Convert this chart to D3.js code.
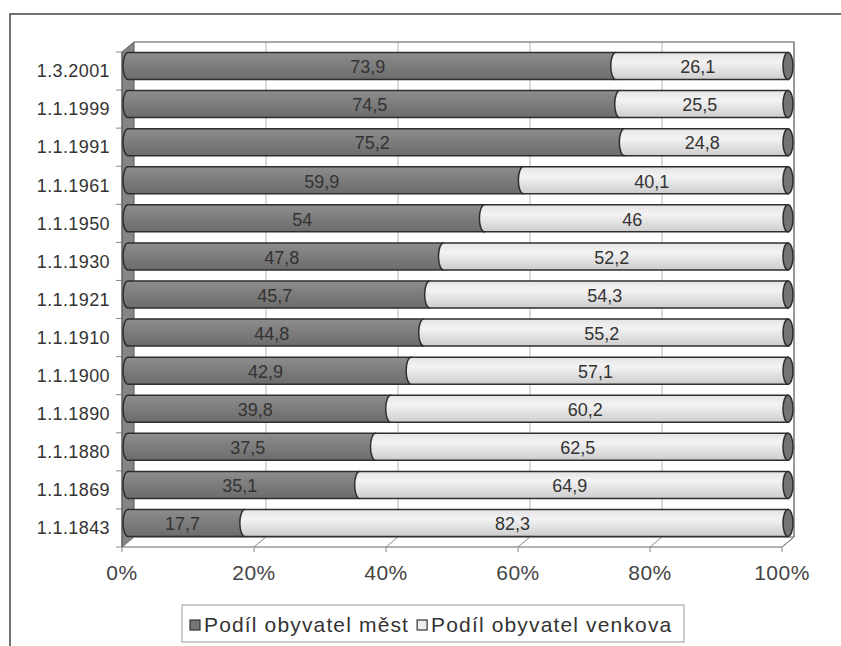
<!DOCTYPE html>
<html><head><meta charset="utf-8">
<script src="https://cdn.jsdelivr.net/npm/d3@7"></script>
<style>body{margin:0;background:#fff}svg{display:block}text{font-family:"Liberation Sans",Arial,sans-serif}</style>
</head><body>
<svg id="c" width="841" height="646"></svg>
<script>
const categories = ["1.3.2001","1.1.1999","1.1.1991","1.1.1961","1.1.1950","1.1.1930","1.1.1921","1.1.1910","1.1.1900","1.1.1890","1.1.1880","1.1.1869","1.1.1843"];
const mesta  = [73.9,74.5,75.2,59.9,54,47.8,45.7,44.8,42.9,39.8,37.5,35.1,17.7];
const venkov = [26.1,25.5,24.8,40.1,46,52.2,54.3,55.2,57.1,60.2,62.5,64.9,82.3];
const tickValues = [0,20,40,60,80,100];
const seriesNames = ["Podíl obyvatel měst","Podíl obyvatel venkova"];

const svg = d3.select("#c");
const DX = 12, DY = -10;
const x = d3.scaleLinear().domain([0,100]).range([122,782]);
const y = d3.scaleBand().domain(categories).range([52,547]).padding(0);
const fmt = v => String(v).replace(".", ",");

const defs = svg.append("defs");
const gDark = defs.append("linearGradient").attr("id","gd").attr("x1",0).attr("y1",0).attr("x2",0).attr("y2",1);
gDark.append("stop").attr("offset","0%").attr("stop-color","#8e8e8e");
gDark.append("stop").attr("offset","35%").attr("stop-color","#818181");
gDark.append("stop").attr("offset","100%").attr("stop-color","#6c6c6c");
const gLight = defs.append("linearGradient").attr("id","gl").attr("x1",0).attr("y1",0).attr("x2",0).attr("y2",1);
gLight.append("stop").attr("offset","0%").attr("stop-color","#e4e4e4");
gLight.append("stop").attr("offset","35%").attr("stop-color","#f3f3f3");
gLight.append("stop").attr("offset","100%").attr("stop-color","#cdcdcd");

// outer border
svg.append("rect").attr("x",10).attr("y",14).attr("width",850).attr("height",660)
  .attr("fill","none").attr("stroke","#444").attr("stroke-width",1.5);

const yTop = y.range()[0], yBot = y.range()[1];
// left wall
svg.append("path").attr("d",`M${x(0)},${yTop} L${x(0)+DX},${yTop+DY} L${x(0)+DX},${yBot+DY} L${x(0)},${yBot} Z`)
  .attr("fill","#858585").attr("stroke","#555").attr("stroke-width",1);
// back wall
svg.append("path").attr("d",`M${x(0)+DX},${yTop+DY} L${x(100)+DX},${yTop+DY} L${x(100)+DX},${yBot+DY}`)
  .attr("fill","none").attr("stroke","#555").attr("stroke-width",1.2);
// gridlines on back wall
svg.append("g").selectAll("line").data(tickValues.slice(1,5)).join("line")
  .attr("x1",d=>x(d)+DX).attr("x2",d=>x(d)+DX).attr("y1",yTop+DY).attr("y2",yBot+DY)
  .attr("stroke","#b5b5b5").attr("stroke-width",1);
// floor
svg.append("path").attr("d",`M${x(0)},${yBot} L${x(100)},${yBot} L${x(100)+DX},${yBot+DY} L${x(0)+DX},${yBot+DY} Z`)
  .attr("fill","#fff").attr("stroke","#666").attr("stroke-width",1);
svg.append("g").selectAll("line").data(tickValues).join("line")
  .attr("x1",d=>x(d)).attr("x2",d=>x(d)+DX).attr("y1",yBot).attr("y2",yBot+DY)
  .attr("stroke","#888").attr("stroke-width",1);
svg.append("g").selectAll("line").data(tickValues).join("line")
  .attr("x1",d=>x(d)).attr("x2",d=>x(d)).attr("y1",yBot).attr("y2",yBot+5)
  .attr("stroke","#888").attr("stroke-width",1);
// left ticks
const bounds = categories.map(c=>y(c)).concat([yBot]);
svg.append("g").selectAll("line").data(bounds).join("line")
  .attr("x1",x(0)-6).attr("x2",x(0)).attr("y1",d=>d).attr("y2",d=>d)
  .attr("stroke","#888").attr("stroke-width",1);
svg.append("line").attr("x1",x(0)).attr("x2",x(0)).attr("y1",yTop).attr("y2",yBot).attr("stroke","#666");

// bars (cylinders)
const BH = 27, RX = 5;
const bx = v => x(v) + DX/2;
const rows = categories.map((c,i)=>({c, m:mesta[i], v:venkov[i]}));
const bars = svg.append("g").selectAll("g").data(rows).join("g");
bars.each(function(d){
  const g = d3.select(this);
  const cy = y(d.c) + y.bandwidth()/2 + DY/2;
  const t = cy - BH/2, b = cy + BH/2, ry = BH/2;
  const x0 = bx(0), xm = bx(d.m), x1 = bx(d.m + d.v);
  g.append("path").attr("d",`M${xm},${t} L${x0},${t} A${RX},${ry} 0 0 0 ${x0},${b} L${xm},${b} Z`)
    .attr("fill","url(#gd)").attr("stroke","#2e2e2e").attr("stroke-width",1.5);
  g.append("path").attr("d",`M${x1},${t} L${xm},${t} A${RX},${ry} 0 0 0 ${xm},${b} L${x1},${b} Z`)
    .attr("fill","url(#gl)").attr("stroke","#2e2e2e").attr("stroke-width",1.5);
  g.append("ellipse").attr("cx",x1).attr("cy",cy).attr("rx",RX).attr("ry",ry)
    .attr("fill","#747474").attr("stroke","#2e2e2e").attr("stroke-width",1.5);
  g.append("text").attr("x",(x0+xm)/2-4).attr("y",cy+1).attr("dy","0.35em")
    .attr("text-anchor","middle").attr("font-size",18).attr("fill","#333").text(fmt(d.m));
  g.append("text").attr("x",(xm+x1)/2-4).attr("y",cy+1).attr("dy","0.35em")
    .attr("text-anchor","middle").attr("font-size",18).attr("fill","#333").text(fmt(d.v));
});

// category labels
svg.append("g").selectAll("text").data(categories).join("text")
  .attr("x",110).attr("y",d=>y(d)+y.bandwidth()/2).attr("dy","0.35em")
  .attr("text-anchor","end").attr("font-size",18).attr("letter-spacing",0.4).attr("fill","#333").text(d=>d);

// x tick labels
svg.append("g").selectAll("text").data(tickValues).join("text")
  .attr("x",d=>x(d)).attr("y",573).attr("dy","0.35em")
  .attr("text-anchor","middle").attr("font-size",21).attr("letter-spacing",0.5).attr("fill","#444").text(d=>d+"%");

// legend
const leg = svg.append("g");
leg.append("rect").attr("x",182).attr("y",605).attr("width",502).attr("height",37)
  .attr("fill","#fff").attr("stroke","#999").attr("stroke-width",1);
const fills = ["#777","#eee"];
let lx = 190;
seriesNames.forEach((s,i)=>{
  leg.append("rect").attr("x",lx).attr("y",620).attr("width",10).attr("height",10)
    .attr("fill",fills[i]).attr("stroke","#333").attr("stroke-width",1.2);
  const t = leg.append("text").attr("x",lx+14).attr("y",625).attr("dy","0.35em")
    .attr("font-size",21).attr("letter-spacing",1.15).attr("fill","#333").text(s);
  lx += 14 + t.node().getComputedTextLength() + 8;
});
</script>
</body></html>
